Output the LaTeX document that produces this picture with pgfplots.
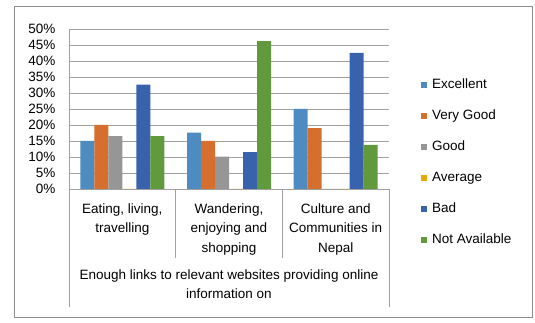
\documentclass[border=0pt]{standalone}
\usepackage{pgfplots}
\pgfplotsset{compat=1.18}
\usepackage{fontspec}
\setmainfont{Liberation Sans}
\definecolor{cExc}{RGB}{77,139,193}
\definecolor{cVG}{RGB}{214,110,46}
\definecolor{cGood}{RGB}{150,150,150}
\definecolor{cAvg}{RGB}{230,170,0}
\definecolor{cBad}{RGB}{56,98,172}
\definecolor{cNA}{RGB}{96,154,60}
\definecolor{gridc}{RGB}{160,160,160}
\definecolor{framec}{RGB}{140,140,140}
\begin{document}
\fontsize{13.5}{16}\selectfont
\begin{tikzpicture}
\path[use as bounding box] (0,0) rectangle (535pt,323pt);
\draw[framec, line width=0.9pt] (14pt,6pt) rectangle (532pt,317pt);
\begin{axis}[
  at={(69pt,134pt)}, anchor=south west,
  scale only axis, width=320pt, height=160pt,
  xmin=-0.5, xmax=2.5, ymin=0, ymax=50,
  ybar=0pt, bar width=14pt,
  axis x line*=bottom, axis y line*=left,
  axis line style={gridc, line width=0.8pt},
  xtick=\empty,
  ytick={0,5,...,50},
  yticklabels={0\%,5\%,10\%,15\%,20\%,25\%,30\%,35\%,40\%,45\%,50\%},
  yticklabel style={xshift=-9pt},
  major tick length=0pt,
  ymajorgrids, grid style={gridc, line width=0.8pt},
  clip=false,
  legend style={at={(1.1,0.69)}, anchor=north west, draw=none, fill=none,
    inner sep=0pt, row sep=18pt, column sep=5pt,
    nodes={anchor=west, inner sep=0pt, text height=10pt, text depth=3pt}},
  legend cell align=left,
  legend image code/.code={\fill[#1,draw=none] (0pt,-3pt) rectangle (6pt,3pt);},
]
\addplot[fill=cExc, draw=none] coordinates {(0,15) (1,17.6) (2,25)};
\addplot[fill=cVG, draw=none] coordinates {(0,20) (1,15) (2,19)};
\addplot[fill=cGood, draw=none] coordinates {(0,16.5) (1,10.1) (2,0)};
\addplot[fill=cAvg, draw=none] coordinates {(0,0) (1,0) (2,0)};
\addplot[fill=cBad, draw=none] coordinates {(0,32.6) (1,11.5) (2,42.5)};
\addplot[fill=cNA, draw=none] coordinates {(0,16.5) (1,46.2) (2,13.8)};
\legend{Excellent,Very Good,Good,Average,Bad,Not Available}
\draw[gridc, line width=0.8pt] (axis cs:-0.5,0) -- (axis cs:-0.5,-36.9);
\draw[gridc, line width=0.8pt] (axis cs:2.5,0) -- (axis cs:2.5,-36.9);
\draw[gridc, line width=0.8pt] (axis cs:0.5,0) -- (axis cs:0.5,-21.6);
\draw[gridc, line width=0.8pt] (axis cs:1.5,0) -- (axis cs:1.5,-21.6);
\draw[gridc, line width=0.8pt] (axis cs:-0.5,0) -- ++(-5pt,0);
\node[anchor=north, align=center, inner sep=0pt, font=\fontsize{13.5}{19.5}\selectfont] at (axis cs:0,-4.4) {Eating, living,\\travelling};
\node[anchor=north, align=center, inner sep=0pt, font=\fontsize{13.5}{19.5}\selectfont] at (axis cs:1,-4.4) {Wandering,\\enjoying and\\shopping};
\node[anchor=north, align=center, inner sep=0pt, font=\fontsize{13.5}{19.5}\selectfont] at (axis cs:2,-4.4) {Culture and\\Communities in\\Nepal};
\node[anchor=north, align=center, inner sep=0pt, font=\fontsize{13.5}{19}\selectfont] at (axis cs:1,-25.3) {Enough links to relevant websites providing online\\information on};
\end{axis}
\end{tikzpicture}
\end{document}
